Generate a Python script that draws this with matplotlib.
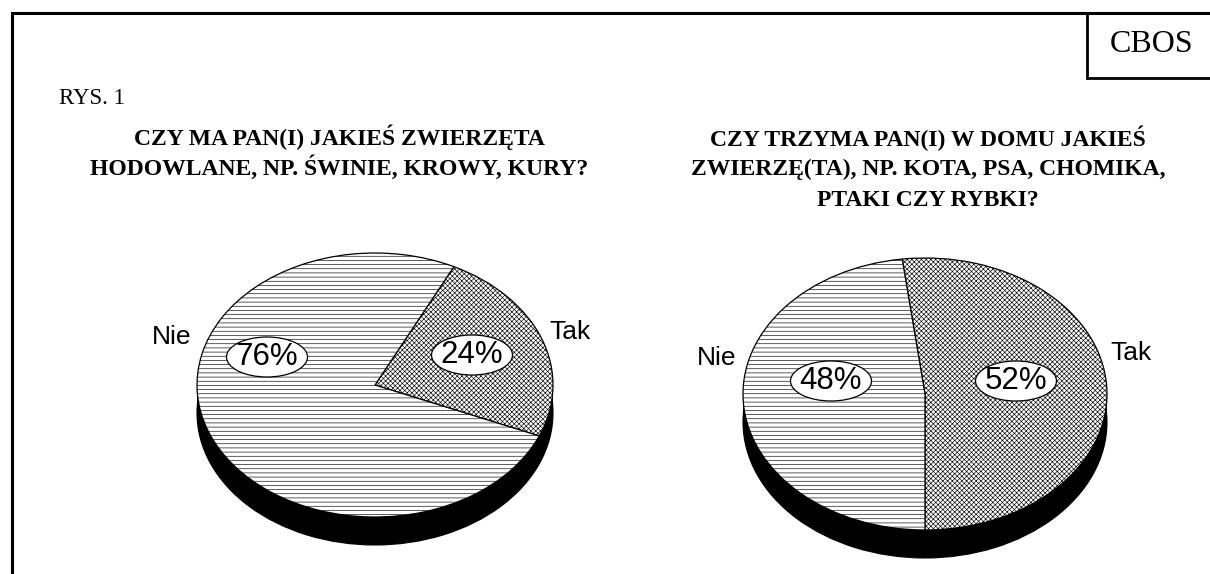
import matplotlib.pyplot as plt
from matplotlib.patches import Rectangle, Ellipse

# dane z wykresu
kategorie = ["Tak", "Nie"]
hodowlane = [24, 76]
domowe = [52, 48]
tytul_1 = ["CZY MA PAN(I) JAKIEŚ ZWIERZĘTA", "HODOWLANE, NP. ŚWINIE, KROWY, KURY?"]
tytul_2 = ["CZY TRZYMA PAN(I) W DOMU JAKIEŚ", "ZWIERZĘ(TA), NP. KOTA, PSA, CHOMIKA,",
           "PTAKI CZY RYBKI?"]

W, H = 1210, 574
plt.rcParams['hatch.linewidth'] = 0.45
serif = "Liberation Serif"
sans = "Liberation Sans"

fig = plt.figure(figsize=(W / 100, H / 100), dpi=100)
bg = fig.add_axes([0, 0, 1, 1])
bg.set_xlim(0, W)
bg.set_ylim(H, 0)
bg.axis("off")

# ramka i znaczek CBOS
bg.plot([12, 12, W], [H, 13, 13], color="black", lw=2.2, solid_joinstyle="miter")
bg.plot([1087, 1087, W], [13, 78, 78], color="black", lw=2.0, solid_joinstyle="miter")
bg.text(1152, 45, "CBOS", ha="center", va="center", fontsize=23, family=serif)
bg.text(59, 99, "RYS. 1", ha="left", va="center", fontsize=16.5, family=serif)

for i, linia in enumerate(tytul_1):
    bg.text(339, 137 + 31 * i, linia, ha="center", va="center", fontsize=17,
            family=serif, fontweight="bold")
for i, linia in enumerate(tytul_2):
    bg.text(928, 138 + 31 * i, linia, ha="center", va="center", fontsize=17,
            family=serif, fontweight="bold")


def pie3d(values, cx, cy, rx, ry, depth, start, pct_pos, lab_pos):
    # osie w pikselach -> jednostka promienia = rx / ry
    left, right = cx - 230, cx + 250
    top, bottom = cy - 160, cy + 180
    ax = fig.add_axes([left / W, 1 - bottom / H, (right - left) / W, (bottom - top) / H])
    d = depth / ry
    # bok (czarny)
    ax.pie([1], colors=["black"], center=(0, -d), radius=1, frame=True,
           wedgeprops=dict(edgecolor="black", linewidth=0.8))
    ax.add_patch(Rectangle((-1, -d), 2, d, color="black", lw=0))
    # wierzch
    ax.pie(values, startangle=start, counterclock=False, radius=1,
           colors=["white", "white"], hatch=["xxxxxxx", "----"], frame=True,
           wedgeprops=dict(edgecolor="black", linewidth=0.9))
    ax.set_aspect("auto")
    ax.set_xlim((left - cx) / rx, (right - cx) / rx)
    ax.set_ylim((cy - bottom) / ry, (cy - top) / ry)
    ax.axis("off")
    for v, (px, py) in zip(values, pct_pos):
        x, y = (px - cx) / rx, (cy - py) / ry
        ax.add_patch(Ellipse((x, y), 81 / rx, 40 / ry, fc="white", ec="black",
                             lw=0.9, zorder=5))
        ax.text(x, y, f"{v}%", ha="center", va="center", fontsize=22.5,
                family=sans, zorder=6)
    for k, (px, py) in zip(kategorie, lab_pos):
        ax.text((px - cx) / rx, (cy - py) / ry, k, ha="center", va="center",
                fontsize=19, family=sans)


pie3d(hodowlane, 375, 385, 178, 132, 28, 63.7,
      [(472, 355), (267, 357)], [(570, 332), (172, 337)])
pie3d(domowe, 925, 394, 182, 136, 28, 97.2,
      [(1016, 381), (831, 381)], [(1131, 353), (717, 358)])

fig.savefig("out.png", dpi=100)
